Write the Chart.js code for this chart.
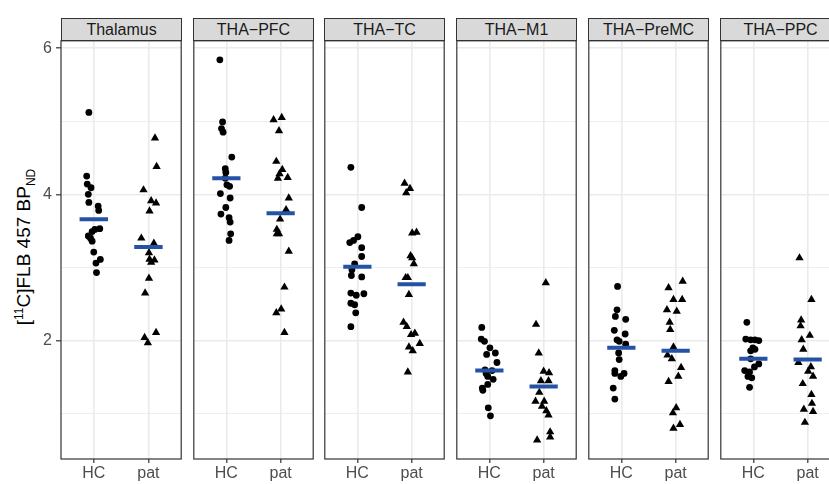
<!DOCTYPE html>
<html>
<head>
<meta charset="utf-8">
<script src="https://cdn.jsdelivr.net/npm/chart.js@4.4.0/dist/chart.umd.min.js"></script>
<style>
  html, body { margin: 0; padding: 0; background: #fff; overflow: hidden; }
  body { width: 829px; height: 484px; position: relative; font-family: 'Liberation Sans', Arial, sans-serif; }
  canvas { position: absolute; top: 36px; }
  .strip {
    position: absolute; top: 18px; height: 23px; width: 121px; box-sizing: border-box;
    background: #D9D9D9; border: 1px solid #333; font-size: 16px; color: #1A1A1A;
    text-align: center; line-height: 21px;
  }
  #ytitle {
    position: absolute; left: 25px; top: 247px; white-space: nowrap;
    transform: translate(-50%, -50%) rotate(-90deg); font-size: 19px; color: #000;
  }
  #ytitle sup, #ytitle sub { font-size: 12px; }
</style>
</head>
<body>
<div id="ytitle">[<sup>11</sup>C]FLB 457 BP<sub>ND</sub></div>
<script>
const panelTitles = ['Thalamus', 'THA\u2212PFC', 'THA\u2212TC', 'THA\u2212M1', 'THA\u2212PreMC', 'THA\u2212PPC'];
const groupLabels = ['HC', 'pat'];
const yTickValues = [1, 2, 3, 4, 5, 6];

// values, jitter = horizontal offset from the group centre
const thalamusHC = [5.12, 4.25, 4.14, 4.09, 4.00, 3.89, 3.84, 3.78, 3.53, 3.52, 3.49, 3.43, 3.40, 3.36, 3.21, 3.11, 3.06, 2.93];
const thalamusHCJitter = [-0.09, -0.13, -0.12, -0.05, -0.10, -0.09, 0.08, 0.09, 0.11, 0.02, -0.03, -0.10, -0.06, -0.03, 0.00, 0.12, 0.04, 0.05];
const thalamusPat = [4.77, 4.38, 4.06, 3.91, 3.88, 3.77, 3.40, 3.33, 3.20, 3.11, 3.10, 3.07, 2.85, 2.65, 2.11, 2.04, 1.97];
const thalamusPatJitter = [0.12, 0.15, -0.09, 0.05, 0.14, 0.02, -0.13, 0.10, 0.01, 0.02, 0.11, 0.05, 0.01, -0.06, 0.14, -0.07, -0.01];

const pfcHC = [5.84, 4.99, 4.90, 4.85, 4.51, 4.35, 4.30, 4.13, 4.11, 4.01, 3.95, 3.82, 3.73, 3.68, 3.62, 3.46, 3.37, 4.22];
const pfcHCJitter = [-0.12, -0.07, -0.09, -0.06, 0.10, -0.02, -0.01, 0.01, 0.06, -0.11, 0.07, -0.01, -0.10, 0.05, 0.07, 0.08, 0.05, -0.02];
const pfcPat = [5.02, 5.05, 4.87, 4.45, 4.34, 4.28, 4.22, 4.23, 3.95, 3.79, 3.66, 3.52, 3.46, 3.46, 3.22, 2.73, 2.43, 2.38, 2.11];
const pfcPatJitter = [-0.13, 0.02, -0.03, -0.08, 0.03, -0.02, -0.05, 0.13, 0.15, 0.10, -0.01, -0.07, -0.07, -0.03, 0.15, 0.07, 0.01, -0.08, 0.07];

const tcHC = [4.37, 3.82, 3.42, 3.34, 3.37, 3.27, 3.15, 3.05, 2.97, 2.89, 2.87, 2.65, 2.62, 2.64, 2.51, 2.49, 2.38, 2.19];
const tcHCJitter = [-0.12, 0.08, 0.01, -0.14, -0.07, 0.08, 0.08, -0.05, -0.10, -0.11, 0.08, -0.12, -0.02, 0.12, -0.12, -0.05, -0.03, -0.12];
const tcPat = [4.15, 4.08, 4.02, 3.47, 3.48, 3.16, 3.13, 3.05, 2.86, 2.86, 2.63, 2.25, 2.19, 2.08, 2.10, 1.96, 1.91, 1.86, 1.57];
const tcPatJitter = [-0.13, -0.03, -0.10, 0.01, 0.09, -0.02, 0.01, 0.04, -0.11, -0.07, -0.05, -0.15, -0.09, -0.01, 0.06, 0.15, -0.05, 0.02, -0.07];

const m1HC = [2.18, 2.02, 1.99, 1.90, 1.83, 1.81, 1.70, 1.60, 1.59, 1.51, 1.47, 1.40, 1.35, 1.32, 1.08, 0.97, 1.55];
const m1HCJitter = [-0.14, -0.15, -0.09, 0.01, 0.11, -0.05, 0.14, -0.08, 0.05, -0.03, 0.07, -0.03, -0.13, -0.12, -0.02, 0.02, -0.06];
const m1Pat = [2.79, 2.22, 1.83, 1.58, 1.56, 1.45, 1.45, 1.29, 1.17, 1.17, 1.10, 1.04, 0.98, 0.75, 0.68, 0.64];
const m1PatJitter = [0.04, -0.14, -0.09, 0.00, 0.10, -0.05, 0.09, -0.08, -0.15, 0.01, -0.03, 0.05, 0.09, 0.12, 0.12, -0.12];

const premcHC = [2.74, 2.42, 2.33, 2.29, 2.14, 2.09, 2.01, 1.99, 1.95, 1.83, 1.74, 1.59, 1.55, 1.55, 1.51, 1.35, 1.20];
const premcHCJitter = [-0.07, -0.08, -0.11, 0.08, -0.13, 0.07, -0.08, -0.04, 0.08, -0.05, -0.04, -0.12, -0.12, 0.05, -0.01, -0.15, -0.12];
const premcPat = [2.81, 2.72, 2.56, 2.56, 2.42, 2.40, 2.25, 2.15, 1.91, 1.80, 1.75, 1.63, 1.51, 1.44, 1.08, 1.01, 0.85, 0.80];
const premcPatJitter = [0.13, -0.13, -0.04, 0.12, -0.16, 0.02, -0.11, -0.10, -0.04, -0.15, -0.07, 0.10, 0.05, -0.13, 0.01, -0.05, 0.08, -0.04];

const ppcHC = [2.25, 2.02, 2.01, 2.01, 2.00, 1.90, 1.86, 1.88, 1.75, 1.68, 1.64, 1.59, 1.57, 1.51, 1.49, 1.36];
const ppcHCJitter = [-0.12, -0.14, -0.05, 0.03, 0.10, -0.01, -0.05, 0.03, -0.05, 0.10, 0.02, -0.16, -0.07, -0.10, -0.03, -0.07];
const ppcPat = [3.13, 2.56, 2.28, 2.20, 2.07, 2.01, 1.88, 1.70, 1.64, 1.58, 1.51, 1.41, 1.26, 1.14, 1.06, 1.03, 0.88];
const ppcPatJitter = [-0.15, 0.07, -0.12, -0.13, 0.04, -0.11, -0.08, -0.17, 0.06, 0.01, 0.10, -0.09, 0.07, 0.08, -0.07, 0.10, -0.05];

const hcMeans = [3.66, 4.22, 3.01, 1.59, 1.90, 1.75];
const patMeans = [3.28, 3.74, 2.77, 1.37, 1.86, 1.74];

const panelData = [
    [thalamusHC, thalamusHCJitter, thalamusPat, thalamusPatJitter],
    [pfcHC, pfcHCJitter, pfcPat, pfcPatJitter],
    [tcHC, tcHCJitter, tcPat, tcPatJitter],
    [m1HC, m1HCJitter, m1Pat, m1PatJitter],
    [premcHC, premcHCJitter, premcPat, premcPatJitter],
    [ppcHC, ppcHCJitter, ppcPat, ppcPatJitter]
];

const MEAN_COLOR = '#2452A5';
const GRID_COLOR = '#EBEBEB';
const TICK_FONT = { family: "'Liberation Sans', Arial, sans-serif", size: 16 };

// dark frame around each panel, like theme_bw
const panelBorder = {
    id: 'panelBorder',
    afterDraw(chart) {
        const a = chart.chartArea;
        const ctx = chart.ctx;
        ctx.save();
        ctx.strokeStyle = '#333';
        ctx.lineWidth = 1.2;
        ctx.strokeRect(a.left, a.top, a.right - a.left, a.bottom - a.top);
        ctx.restore();
    }
};

// keep every panel's plot area the same size, whatever the tick labels need
const noScalePadding = s => {
    s.paddingTop = 0;
    s.paddingBottom = 0;
    s.paddingLeft = 0;
    s.paddingRight = 0;
};

const meanSegment = (centre, value) => ({
    type: 'line',
    data: [{ x: centre - 0.26, y: value }, { x: centre + 0.26, y: value }],
    borderColor: MEAN_COLOR,
    borderWidth: 4,
    borderCapStyle: 'butt',
    pointRadius: 0,
    showLine: true
});

panelTitles.forEach((title, i) => {
    const [hc, hcJit, pat, patJit] = panelData[i];
    const panelLeft = Math.round(61 + 131.7 * i);
    const first = i === 0;

    const strip = document.createElement('div');
    strip.className = 'strip';
    strip.style.left = panelLeft + 'px';
    strip.textContent = title;
    document.body.appendChild(strip);

    const canvas = document.createElement('canvas');
    const width = first ? panelLeft + 121 + 4 : 129;
    canvas.width = width;
    canvas.height = 448;
    canvas.style.width = width + 'px';
    canvas.style.height = '448px';
    canvas.style.left = (first ? 0 : panelLeft - 4) + 'px';
    document.body.appendChild(canvas);

    new Chart(canvas.getContext('2d'), {
        type: 'scatter',
        data: {
            datasets: [
                meanSegment(1, hcMeans[i]),
                meanSegment(2, patMeans[i]),
                {
                    data: hc.map((v, k) => ({ x: 1 + hcJit[k], y: v })),
                    pointStyle: 'circle',
                    pointRadius: 3.4,
                    backgroundColor: '#000',
                    borderWidth: 0
                },
                {
                    data: pat.map((v, k) => ({ x: 2 + patJit[k], y: v })),
                    pointStyle: 'triangle',
                    pointRadius: 4.8,
                    backgroundColor: '#000',
                    borderWidth: 0
                }
            ]
        },
        options: {
            responsive: false,
            animation: false,
            layout: { padding: { left: first ? 0 : 4, right: 4, top: 4, bottom: 0 } },
            plugins: { legend: { display: false }, tooltip: { enabled: false } },
            scales: {
                x: {
                    type: 'linear',
                    min: 0.4,
                    max: 2.6,
                    afterBuildTicks: s => { s.ticks = [{ value: 1 }, { value: 2 }]; },
                    afterFit: s => { s.height = 25; noScalePadding(s); },
                    ticks: {
                        callback: v => groupLabels[v - 1],
                        color: '#4D4D4D',
                        font: TICK_FONT,
                        padding: 1
                    },
                    grid: { color: GRID_COLOR, lineWidth: 1.6, tickColor: '#333', tickLength: 4, tickWidth: 1.2 },
                    border: { display: false }
                },
                y: {
                    min: 0.38,
                    max: 6.1,
                    afterBuildTicks: s => { s.ticks = yTickValues.map(v => ({ value: v })); },
                    afterFit: s => { s.width = first ? 61 : 0; noScalePadding(s); },
                    ticks: {
                        display: first,
                        callback: v => (v % 2 === 0 ? v : ''),
                        color: '#4D4D4D',
                        font: TICK_FONT,
                        padding: 4
                    },
                    grid: {
                        color: GRID_COLOR,
                        lineWidth: c => (c.tick && c.tick.value % 2 === 0 ? 1.6 : 0.8),
                        drawTicks: first,
                        tickLength: 5,
                        tickWidth: 1.2,
                        tickColor: c => (c.tick && c.tick.value % 2 === 0 ? '#333' : 'rgba(0,0,0,0)')
                    },
                    border: { display: false }
                }
            }
        },
        plugins: [panelBorder]
    });
});
</script>
</body>
</html>
